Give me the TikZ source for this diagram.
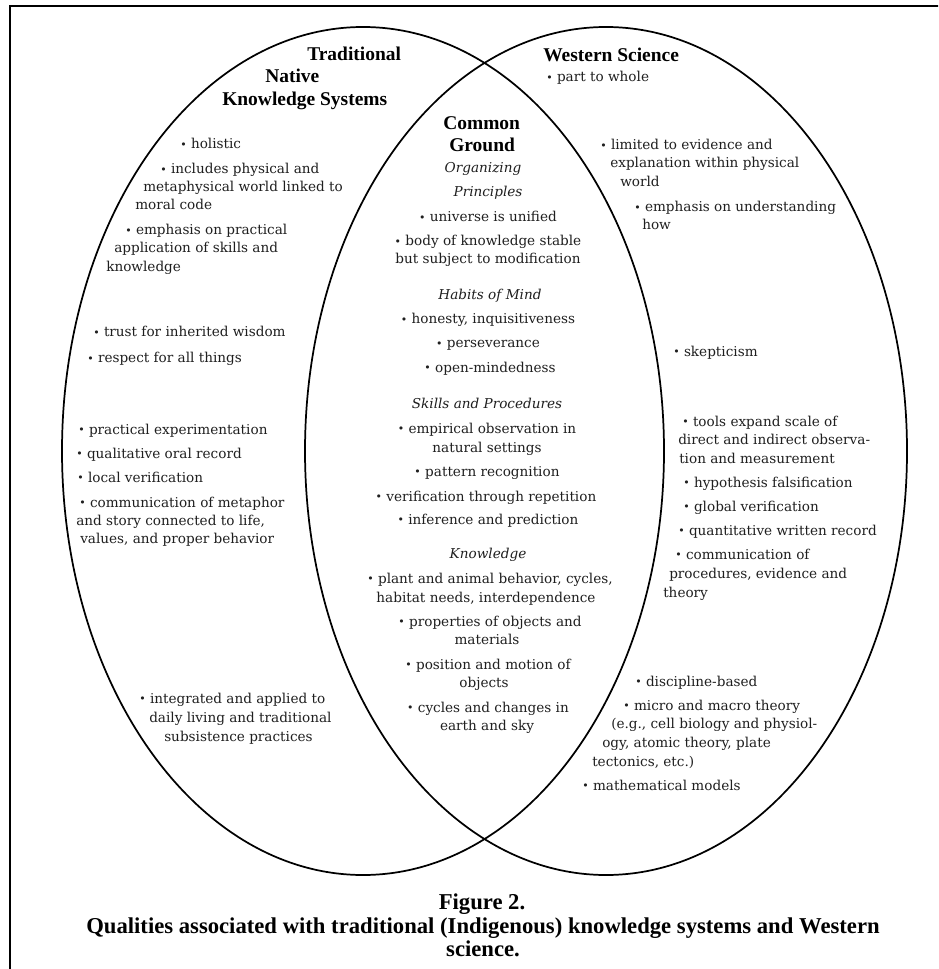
\documentclass[tikz,border=0pt]{standalone}
\usepackage{graphicx}
\usepackage{fontspec}
\setmainfont{DejaVu Serif}
\newfontfamily\headfont{Liberation Serif}
\newfontfamily\capfont{Liberation Serif}
\newcommand\blt{\raisebox{0.12ex}{\scalebox{0.8}{\textbullet}}\ }
\tikzset{
  bodytxt/.style={inner sep=0pt, font=\fontsize{10.2}{12}\selectfont, text=black!88},
  lft/.style={bodytxt, anchor=base west},
  ctr/.style={bodytxt, anchor=base},
  italtxt/.style={ctr, font=\fontsize{10.2}{12}\selectfont\itshape},
  hdtxt/.style={inner sep=0pt, anchor=base west, font=\headfont\bfseries\fontsize{14.6}{17}\selectfont},
  captxt/.style={inner sep=0pt, anchor=base, font=\capfont\bfseries\fontsize{17}{19}\selectfont},
  ellline/.style={line width=1.3pt},
  frameline/.style={line width=1.7pt}
}
\begin{document}
\begin{tikzpicture}[x=0.75pt,y=-0.75pt]
\useasboundingbox (0,0) rectangle (938,969);
\clip (0,0) rectangle (938,969);
\fill[white] (0,0) rectangle (938,969);
\draw[frameline] (10,975) -- (10,6) -- (945,6);
\draw[ellline] (363,451) ellipse [x radius=225.75pt, y radius=318pt];
\draw[ellline] (606,451) ellipse [x radius=225.75pt, y radius=318pt];
% left set
\node[hdtxt] (t1) at (307,61) {Traditional};
\node[hdtxt] (t2) at (265,83) {Native};
\node[hdtxt] (t3) at (222,106) {Knowledge Systems};
\node[lft] (l1) at (180,149) {\blt holistic};
\node[lft] (l2) at (160,174) {\blt includes physical and};
\node[lft] (l3) at (143,192) {metaphysical world linked to};
\node[lft] (l4) at (135,210) {moral code};
\node[lft] (l5) at (125,235) {\blt emphasis on practical};
\node[lft] (l6) at (114,253) {application of skills and};
\node[lft] (l7) at (106,272) {knowledge};
\node[lft] (l8) at (93,337) {\blt trust for inherited wisdom};
\node[lft] (l9) at (87,363) {\blt respect for all things};
\node[lft] (l10) at (78,434) {\blt practical experimentation};
\node[lft] (l11) at (76,458) {\blt qualitative oral record};
\node[lft] (l12) at (77,482) {\blt local verification};
\node[lft] (l13) at (79,507) {\blt communication of metaphor};
\node[lft] (l14) at (76,525) {and story connected to life,};
\node[lft] (l15) at (80,543) {values, and proper behavior};
\node[lft] (l16) at (139,703) {\blt integrated and applied to};
\node[lft] (l17) at (149,722) {daily living and traditional};
\node[lft] (l18) at (164,741) {subsistence practices};
% right set
\node[hdtxt] (w1) at (543,62) {Western Science};
\node[lft] (r1) at (546,82) {\blt part to whole};
\node[lft] (r2) at (600,150) {\blt limited to evidence and};
\node[lft] (r3) at (610,168) {explanation within physical};
\node[lft] (r4) at (620,187) {world};
\node[lft] (r5) at (634,212) {\blt emphasis on understanding};
\node[lft] (r6) at (642,230) {how};
\node[lft] (r7) at (673,356) {\blt skepticism};
\node[lft] (r8) at (682,426) {\blt tools expand scale of};
\node[lft] (r9) at (678,444) {direct and indirect observa-};
\node[lft] (r10) at (679,463) {tion and measurement};
\node[lft] (r11) at (683,487) {\blt hypothesis falsification};
\node[lft] (r12) at (683,511) {\blt global verification};
\node[lft] (r13) at (678,535) {\blt quantitative written record};
\node[lft] (r14) at (675,559) {\blt communication of};
\node[lft] (r15) at (669,578) {procedures, evidence and};
\node[lft] (r16) at (663,597) {theory};
\node[lft] (r17) at (635,686) {\blt discipline-based};
\node[lft] (r18) at (623,710) {\blt micro and macro theory};
\node[lft] (r19) at (611,728) {(e.g., cell biology and physiol-};
\node[lft] (r20) at (602,747) {ogy, atomic theory, plate};
\node[lft] (r21) at (592,766) {tectonics, etc.)};
\node[lft] (r22) at (582,790) {\blt mathematical models};
% common ground
\node[hdtxt] (c1) at (443,130) {Common};
\node[hdtxt] (c2) at (449,152) {Ground};
\node[italtxt] (c3) at (483,173) {Organizing};
\node[italtxt] (c4) at (488,197) {Principles};
\node[ctr] (c5) at (488,222) {\blt universe is unified};
\node[ctr] (c6) at (488,246) {\blt body of knowledge stable};
\node[ctr] (c7) at (488,264) {but subject to modification};
\node[italtxt] (c8) at (490,300) {Habits of Mind};
\node[ctr] (c9) at (488,324) {\blt honesty, inquisitiveness};
\node[ctr] (c10) at (488,348) {\blt perseverance};
\node[ctr] (c11) at (490,372) {\blt open-mindedness};
\node[italtxt] (c12) at (487,408) {Skills and Procedures};
\node[ctr] (c13) at (487,433) {\blt empirical observation in};
\node[ctr] (c14) at (487,452) {natural settings};
\node[ctr] (c15) at (487,476) {\blt pattern recognition};
\node[ctr] (c16) at (486,501) {\blt verification through repetition};
\node[ctr] (c17) at (488,524) {\blt inference and prediction};
\node[italtxt] (c18) at (488,558) {Knowledge};
\node[ctr] (c19) at (490,583) {\blt plant and animal behavior, cycles,};
\node[ctr] (c20) at (486,602) {habitat needs, interdependence};
\node[ctr] (c21) at (490,626) {\blt properties of objects and};
\node[ctr] (c22) at (487,644) {materials};
\node[ctr] (c23) at (488,669) {\blt position and motion of};
\node[ctr] (c24) at (484,687) {objects};
\node[ctr] (c25) at (488,712) {\blt cycles and changes in};
\node[ctr] (c26) at (487,730) {earth and sky};
% caption
\node[captxt] (f1) at (482,909) {Figure 2.};
\node[captxt] (f2) at (483,933) {Qualities associated with traditional (Indigenous) knowledge systems and Western};
\node[captxt] (f3) at (483,956) {science.};
\end{tikzpicture}
\end{document}
